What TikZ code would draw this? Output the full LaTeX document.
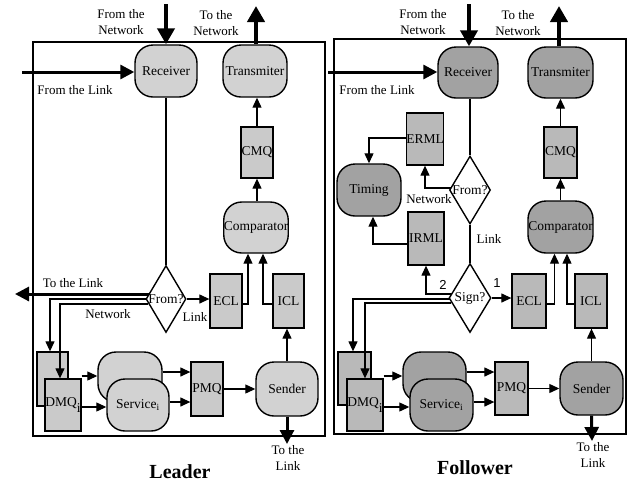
\documentclass[tikz,border=0pt]{standalone}
\usepackage{fontspec}
\setmainfont{Liberation Serif}
\newfontfamily\lsans{Liberation Sans}
\usetikzlibrary{arrows.meta,shapes.geometric,backgrounds,calc}
\definecolor{lround}{HTML}{D2D2D2}
\definecolor{lqueue}{HTML}{CACACA}
\definecolor{fround}{HTML}{A2A2A2}
\definecolor{fqueue}{HTML}{B9B9B9}
\begin{document}
\begin{tikzpicture}[x=1pt,y=-1pt,
 every node/.style={font=\fontsize{13}{16.5}\selectfont, inner sep=0pt},
 sz/.style 2 args={minimum width=#1pt, minimum height=#2pt},
 boxfont/.style={font=\fontsize{13.5}{16.5}\selectfont},
 rl/.style={draw, boxfont, line width=1.4pt, rounded corners=18pt, fill=lround},
 rf/.style={draw, boxfont, line width=1.4pt, rounded corners=18pt, fill=fround},
 ql/.style={draw, boxfont, line width=1.3pt, fill=lqueue},
 qf/.style={draw, boxfont, line width=1.3pt, fill=fqueue},
 dia/.style={draw, diamond, line width=1.4pt, fill=white},
 conn/.style={line width=1.2pt},
 arr/.style={line width=1.2pt, -{Triangle[length=10pt,width=9pt]}},
 big/.style={line width=4.5pt, -{Triangle[length=16pt,width=17pt]}},
 mid/.style={line width=3pt, -{Triangle[length=14pt,width=14pt]}},
 frame/.style={line width=1.5pt},
 lbl/.style={align=center},
 ttl/.style={font=\fontsize{20}{24}\selectfont\bfseries},
 num/.style={font=\lsans\fontsize{13}{16}\selectfont}]
\useasboundingbox (0,0) rectangle (627,483);

% ---------------- Leader nodes ----------------
\node[rl, sz={62}{52}] (recvL) at (166,71) {Receiver};
\node[rl, sz={64}{52}] (tranL) at (255,71) {Transmiter};
\node[ql, sz={32}{51}] (cmqL) at (257,152.5) {CMQ};
\node[rl, sz={62}{51}] (compL) at (256,227.5) {Comparator};
\node[dia, sz={40}{67}] (fromL) at (166,299) {};
\node[boxfont] (fromLt) at (fromL) {From?};
\node[ql, sz={32}{54}] (eclL) at (226,301) {ECL};
\node[ql, sz={31}{54}] (iclL) at (288.5,301) {ICL};
\node[ql, sz={31}{54}] (dmqbL) at (52.5,379) {};
\node[ql, sz={36}{52}] (dmqfL) at (63,405) {DMQ\raisebox{-6pt}{i}};
\node[rl, sz={64}{50}] (svcbL) at (130,377) {};
\node[rl, sz={62}{52}] (svcfL) at (138,405) {Service\textsubscript{i}};
\node[ql, sz={32}{54}] (pmqL) at (207,389) {PMQ};
\node[rl, sz={62}{54}] (sendL) at (287,389) {Sender};

% ---------------- Follower nodes ----------------
\node[rf, sz={60}{51}] (recvF) at (468,72.5) {Receiver};
\node[rf, sz={65}{51}] (tranF) at (560.5,72.5) {Transmiter};
\node[qf, sz={33}{51}] (cmqF) at (560.5,152.5) {CMQ};
\node[rf, sz={65}{52}] (compF) at (560.5,227) {Comparator};
\node[qf, sz={36}{52}] (ermlF) at (425,139) {ERML};
\node[rf, sz={64}{52}] (timF) at (369,190) {Timing};
\node[dia, sz={41}{68}] (fromF) at (470,190) {};
\node[boxfont] (fromFt) at (fromF) {From?};
\node[qf, sz={36}{53}] (irmlF) at (426,238.5) {IRML};
\node[dia, sz={42}{69}] (signF) at (470,298) {};
\node[boxfont] (signFt) at (signF) {Sign?};
\node[qf, sz={34}{54}] (eclF) at (529,301) {ECL};
\node[qf, sz={32}{54}] (iclF) at (591,301) {ICL};
\node[qf, sz={33}{53}] (dmqbF) at (354.5,378.5) {};
\node[qf, sz={36}{52}] (dmqfF) at (365,405) {DMQ\raisebox{-6pt}{i}};
\node[rf, sz={63}{50}] (svcbF) at (434.5,377) {};
\node[rf, sz={63}{52}] (svcfF) at (441.5,405) {Service\textsubscript{i}};
\node[qf, sz={33}{53}] (pmqF) at (511.5,388.5) {PMQ};
\node[rf, sz={63}{53}] (sendF) at (591.5,388.5) {Sender};

% ---------------- Texts ----------------
\node[lbl] (tNinL) at (121,22) {From the\\Network};
\node[lbl] (tNoutL) at (216,23) {To the\\Network};
\node (tLinL) at (75,90) {From the Link};
\node (tLoutL) at (73,283) {To the Link};
\node (tNetL) at (108,314) {Network};
\node (tLinkL) at (195,317) {Link};
\node[lbl] (tSendL) at (288,458) {To the\\Link};
\node[ttl] (leader) at (180,472) {Leader};

\node[lbl] (tNinF) at (423,22) {From the\\Network};
\node[lbl] (tNoutF) at (518,23) {To the\\Network};
\node (tLinF) at (377,90) {From the Link};
\node (tNetF) at (429,199) {Network};
\node (tLinkF) at (489,239) {Link};
\node[num] (t2) at (443,285) {2};
\node[num] (t1) at (497,283) {1};
\node[lbl] (tSendF) at (593,455) {To the\\Link};
\node[ttl] (follower) at (475,468) {Follower};

\coordinate (nInL) at (166,4);
\coordinate (nOutL) at (256,6);
\coordinate (lInL) at (22,72);
\coordinate (lOutL) at (15,294);
\coordinate (lOut2L) at (287,444);
\coordinate (nInF) at (469,4);
\coordinate (nOutF) at (559,6);
\coordinate (lInF) at (328,72);
\coordinate (lOut2F) at (592,441);

\begin{pgfonlayer}{background}
\draw[frame] (33,42) rectangle (325,436);
\draw[frame] (334,39) rectangle (626,434);
% leader connectors
\draw[big] (nInL) -- (recvL.north);
\draw[big] (nOutL |- tranL.north) -- (nOutL);
\draw[mid] (lInL) -- (recvL.west |- lInL);
\draw[conn] (recvL.south) -- (fromL.north);
\draw[arr] (fromL.east) -- (eclL.west |- fromL.east);
\draw[mid] (fromL.center |- lOutL) -- (lOutL);
\draw[arr] (fromL.center) -| (dmqbL.north -| 50,0);
\draw[arr] (dmqfL.east |- 0,376) -- (svcbL.west |- 0,376);
\draw[arr] (dmqfL.east |- 0,407) -- (svcfL.west |- 0,407);
\draw[arr] (svcbL.east |- 0,372) -- (pmqL.west |- 0,372);
\draw[arr] (svcfL.east |- 0,402) -- (pmqL.west |- 0,402);
\draw[arr] (pmqL) -- (sendL);
\draw[arr] (sendL.north) -- (sendL.north |- iclL.south);
\draw[mid] (sendL.south) -- (lOut2L);
\draw[arr] (cmqL.south |- compL.north) -- (cmqL.south);
\draw[arr] (cmqL.north) -- (cmqL.north |- tranL.south);
\draw[arr] (eclL.east |- 0,304) -| ($(compL.south)+(-8,0)$);
\draw[arr] (iclL.west |- 0,304) -| ($(compL.south)+(7,0)$);
% follower connectors
\draw[big] (nInF) -- (nInF |- recvF.north);
\draw[big] (nOutF |- tranF.north) -- (nOutF);
\draw[mid] (lInF) -- (recvF.west |- lInF);
\draw[conn] (recvF.south -| fromF.north) -- (fromF.north);
\draw[arr] (ermlF.west |- 0,138) -| (timF.north);
\draw[arr] (fromF.center |- 0,188) -| (ermlF.south);
\draw[conn] (fromF.south) -- (signF.north);
\draw[arr] (irmlF.west |- 0,244) -| ($(timF.south)+(4,0)$);
\draw[arr] (signF.center |- 0,294) -| (irmlF.south);
\draw[arr] (signF.east) -- (eclF.west |- signF.east);
\draw[arr] (eclF.east |- 0,304) -| ($(compF.south)+(-6,0)$);
\draw[arr] (iclF.west |- 0,304) -| ($(compF.south)+(6.5,0)$);
\draw[arr] (cmqF.south |- compF.north) -- (cmqF.south);
\draw[arr] (cmqF.north) -- (cmqF.north |- tranF.south);
\draw[arr] (signF.center |- 0,299) -| (dmqbF.north -| 353,0);
\draw[arr] (dmqfF.east |- 0,376) -- (svcbF.west |- 0,376);
\draw[arr] (dmqfF.east |- 0,407) -- (svcfF.west |- 0,407);
\draw[arr] (svcbF.east |- 0,372) -- (pmqF.west |- 0,372);
\draw[arr] (svcfF.east |- 0,402) -- (pmqF.west |- 0,402);
\draw[arr] (pmqF) -- (sendF);
\draw[arr] (sendF.north) -- (sendF.north |- iclF.south);
\draw[mid] (sendF.south) -- (lOut2F);
\end{pgfonlayer}

% connectors drawn over the back DMQ boxes
\draw[arr] ($(fromL.west)+(3,5)$) -| (dmqfL.north -| 60,0);
\draw[arr] ($(signF.west)+(3,5)$) -| (dmqfF.north);
\end{tikzpicture}
\end{document}
